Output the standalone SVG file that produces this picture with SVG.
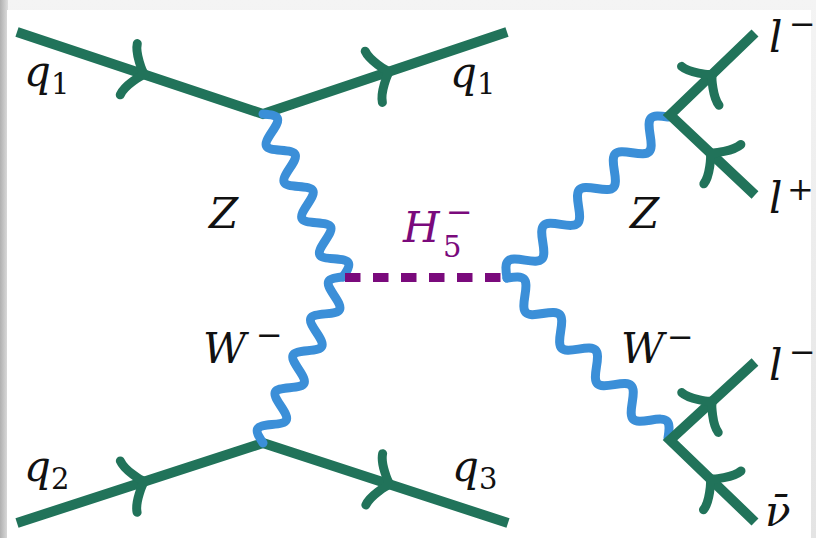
<svg xmlns="http://www.w3.org/2000/svg" width="816" height="538" viewBox="0 0 816 538">
<defs>
<linearGradient id="lg" x1="0" y1="0" x2="1" y2="0">
<stop offset="0" stop-color="#b0b0b0"/>
<stop offset="1" stop-color="#dedede"/>
</linearGradient>
<linearGradient id="tg" x1="0" y1="0" x2="0" y2="1">
<stop offset="0" stop-color="#f4f4f4"/>
<stop offset="1" stop-color="#e4e4e4"/>
</linearGradient>
<path id="arr" d="M-17,-27 C-16,-17 -3.4,-1.7 0,0 C-3.4,1.7 -16,17 -17,27"/>
</defs>
<style>
.f{fill:none;stroke:#21735a;stroke-width:10;stroke-linejoin:miter;stroke-linecap:butt}
.a{fill:none;stroke:#21735a;stroke-width:9;stroke-linecap:round;stroke-linejoin:round}
.w{fill:none;stroke:#3b8fd8;stroke-width:9;stroke-linecap:round;stroke-linejoin:round}
.h{fill:none;stroke:#7a0a7c;stroke-width:9;stroke-dasharray:15.5 12.5}
text{font-family:"DejaVu Serif",serif;font-style:italic;font-size:42px;fill:#111111}
.s{font-style:normal;font-size:29px}
.m{font-style:normal;font-size:32px}
</style>
<rect width="816" height="538" fill="url(#tg)"/>
<rect x="0" y="0" width="8" height="538" fill="url(#lg)"/>
<rect x="7" y="10" width="804" height="528" fill="#ffffff"/>

<g id="connectors">
<polyline class="f" points="17,32 263,114 507,32"/>
<polyline class="f" points="17,523 263,443 508,523"/>
<use href="#arr" class="a" transform="translate(144.9,74.6) rotate(18.43)"/>
<use href="#arr" class="a" transform="translate(389.9,71.4) rotate(-18.58)"/>
<use href="#arr" class="a" transform="translate(144.9,481.4) rotate(-18.02)"/>
<use href="#arr" class="a" transform="translate(390.4,484.6) rotate(18.1)"/>
<path class="w" transform="translate(263,114) rotate(63.86)" d="M0,0 c8.56,-14.7 11.61,-14.7 20.17,0 s11.61,14.7 20.17,0 s11.61,-14.7 20.17,0 s11.61,14.7 20.17,0 s11.61,-14.7 20.17,0 s11.61,14.7 20.17,0 s11.61,-14.7 20.17,0 s11.61,14.7 20.17,0 s11.61,-14.7 20.17,0"/>
<path class="w" transform="translate(343,277) rotate(115.73)" d="M0,0 c8.69,14.7 11.78,14.7 20.47,0 s11.78,-14.7 20.47,0 s11.78,14.7 20.47,0 s11.78,-14.7 20.47,0 s11.78,14.7 20.47,0 s11.78,-14.7 20.47,0 s11.78,14.7 20.47,0 s11.78,-14.7 20.47,0 s11.78,14.7 20.47,0"/>
<line class="h" x1="345" y1="277.5" x2="503" y2="277.5"/>
<path class="w" transform="translate(507,278) rotate(-45)" d="M0,0 c10.74,-15 14.56,-15 25.3,0 s14.56,15 25.3,0 s14.56,-15 25.3,0 s14.56,15 25.3,0 s14.56,-15 25.3,0 s14.56,15 25.3,0 s14.56,-15 25.3,0 s14.56,15 25.3,0 s14.56,-15 25.3,0"/>
<path class="w" transform="translate(507,278) rotate(44.82)" d="M0,0 c10.7,-15 14.52,-15 25.22,0 s14.52,15 25.22,0 s14.52,-15 25.22,0 s14.52,15 25.22,0 s14.52,-15 25.22,0 s14.52,15 25.22,0 s14.52,-15 25.22,0 s14.52,15 25.22,0 s14.52,-15 25.22,0"/>
<polyline class="f" points="755,33 670,115 755,195"/>
<polyline class="f" points="755,362 670,440 755,522"/>
<use href="#arr" class="a" transform="translate(712.5,74) rotate(-43.96)"/>
<use href="#arr" class="a" transform="translate(710,152.5) rotate(-136.74)"/>
<use href="#arr" class="a" transform="translate(712.5,401) rotate(-42.54)"/>
<use href="#arr" class="a" transform="translate(710,478.6) rotate(-136.03)"/>
</g>

<g id="label-q1-in"><text x="24" y="86">q</text><text class="s" x="51" y="94">1</text></g>
<g id="label-q1-out"><text x="450" y="87">q</text><text class="s" x="477" y="94">1</text></g>
<g id="label-q2"><text x="24" y="481">q</text><text class="s" x="51" y="489">2</text></g>
<g id="label-q3"><text x="452" y="481">q</text><text class="s" x="479" y="489">3</text></g>
<g id="label-Z-left"><text x="209" y="228">Z</text></g>
<g id="label-W-left"><text x="203" y="363">W<tspan class="m" x="256" y="345.5">−</tspan></text></g>
<g id="label-H"><text x="403" y="242" style="fill:#7a0a7c">H<tspan class="s" x="443" y="257">5</tspan><tspan class="m" x="446" y="222.5">−</tspan></text></g>
<g id="label-Z-right"><text x="630" y="228">Z</text></g>
<g id="label-W-right"><text x="621" y="363">W<tspan class="m" x="667" y="347.5">−</tspan></text></g>
<g id="label-l-minus-top"><text x="769" y="52">l<tspan class="m" x="789" y="34.5">−</tspan></text></g>
<g id="label-l-plus"><text x="769" y="213">l<tspan class="m" x="787" y="200">+</tspan></text></g>
<g id="label-l-minus-bottom"><text x="769" y="380">l<tspan class="m" x="789" y="362.5">−</tspan></text></g>
<g id="label-nubar"><text x="765" y="526">ν̄</text></g>
</svg>
